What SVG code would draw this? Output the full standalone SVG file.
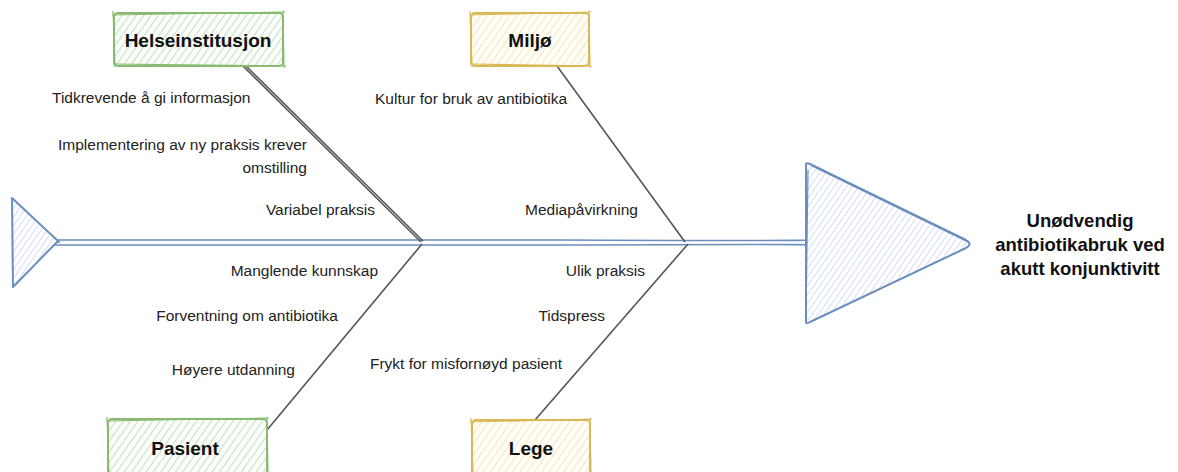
<svg xmlns="http://www.w3.org/2000/svg" width="1178" height="472" viewBox="0 0 1178 472">
<defs>
<pattern id="hGreen" patternUnits="userSpaceOnUse" width="6" height="6" patternTransform="rotate(35)">
<rect width="6" height="6" fill="#fbfdfa"/>
<line x1="0" y1="0" x2="0" y2="6" stroke="#a9cf9d" stroke-width="1.3"/>
</pattern>
<pattern id="hYellow" patternUnits="userSpaceOnUse" width="6" height="6" patternTransform="rotate(35)">
<rect width="6" height="6" fill="#fffdf6"/>
<line x1="0" y1="0" x2="0" y2="6" stroke="#eed9a0" stroke-width="1.3"/>
</pattern>
<pattern id="hBlue" patternUnits="userSpaceOnUse" width="5" height="5" patternTransform="rotate(35)">
<rect width="5" height="5" fill="#ffffff"/>
<line x1="0" y1="0" x2="0" y2="5" stroke="#b6c9e8" stroke-width="1.2"/>
</pattern>
<style>
.lbl{font-family:"Liberation Sans",Arial,sans-serif;font-size:15.5px;fill:#222}
.box{font-family:"Liberation Sans",Arial,sans-serif;font-size:19px;font-weight:bold;fill:#111}
.ttl{font-family:"Liberation Sans",Arial,sans-serif;font-size:18.5px;font-weight:bold;fill:#111}
.gbox{fill:url(#hGreen);stroke:#88bb72;stroke-width:2}
.ybox{fill:url(#hYellow);stroke:#d8b955;stroke-width:2}
.sk{fill:none;stroke-width:1.2}
.fish{fill:url(#hBlue);stroke:#6c8ebf;stroke-width:2;stroke-linejoin:round}
.spine{fill:none;stroke:#6c8ebf;stroke-width:1.6}
.bone{fill:none;stroke:#555;stroke-width:1.6}
</style>
</defs>

<g id="connectors">
<path class="spine" d="M45 240 Q300 239 560 240 T806 240"/>
<path class="spine" d="M45 245 Q300 246 560 245 T806 245"/>
<path class="spine" d="M48 242 L60 242" stroke-width="1"/>
<path class="bone" d="M243 66 L421 242"/>
<path class="bone" d="M246 66 L423 241" stroke-width="1"/>
<path class="bone" d="M557 66 L685 242"/>
<path class="bone" d="M267 430 L422 244"/>
<path class="bone" d="M535 420 L688 244"/>
</g>

<g id="tail">
<path class="fish" d="M12 198 L58 241 L13 287 Z"/>
</g>

<g id="head">
<path class="fish" d="M806 166 Q805 162 810 164 L966 240 Q973 244 966 248 L810 322 Q805 325 806 320 Z"/>
<path class="sk" stroke="#6c8ebf" d="M808 170 L806 318 M812 166 L968 242"/>
<text class="ttl" x="1080" y="227" text-anchor="middle">Unødvendig</text>
<text class="ttl" x="1080" y="251" text-anchor="middle">antibiotikabruk ved</text>
<text class="ttl" x="1080" y="275" text-anchor="middle">akutt konjunktivitt</text>
</g>

<g id="helseinstitusjon">
<rect class="gbox" x="114" y="13" width="169" height="53" rx="4"/>
<path class="sk" stroke="#88bb72" d="M112 15 L285 12 M283 11 L284 68 M286 66 L113 64 M115 67 L113 11"/>
<text class="box" x="198" y="47" text-anchor="middle">Helseinstitusjon</text>
</g>

<g id="miljo">
<rect class="ybox" x="471" y="13" width="118" height="53" rx="4"/>
<path class="sk" stroke="#d8b955" d="M469 15 L591 12 M589 11 L590 68 M592 66 L470 64 M472 67 L470 11"/>
<text class="box" x="530" y="47" text-anchor="middle">Miljø</text>
</g>

<g id="pasient">
<rect class="gbox" x="108" y="419" width="159" height="60" rx="4"/>
<path class="sk" stroke="#88bb72" d="M106 421 L269 418 M267 417 L268 474 M109 474 L107 417"/>
<text class="box" x="185" y="455" text-anchor="middle">Pasient</text>
</g>

<g id="lege">
<rect class="ybox" x="472" y="420" width="118" height="60" rx="4"/>
<path class="sk" stroke="#d8b955" d="M470 422 L592 419 M590 418 L591 474 M473 474 L471 418"/>
<text class="box" x="531" y="455" text-anchor="middle">Lege</text>
</g>

<g id="labels">
<text class="lbl" x="52" y="103">Tidkrevende å gi informasjon</text>
<text class="lbl" x="307" y="150" text-anchor="end">Implementering av ny praksis krever</text>
<text class="lbl" x="307" y="173" text-anchor="end">omstilling</text>
<text class="lbl" x="375" y="215" text-anchor="end">Variabel praksis</text>
<text class="lbl" x="375" y="104">Kultur for bruk av antibiotika</text>
<text class="lbl" x="525" y="215">Mediapåvirkning</text>
<text class="lbl" x="378" y="276" text-anchor="end">Manglende kunnskap</text>
<text class="lbl" x="338" y="321" text-anchor="end">Forventning om antibiotika</text>
<text class="lbl" x="295" y="375" text-anchor="end">Høyere utdanning</text>
<text class="lbl" x="645" y="276" text-anchor="end">Ulik praksis</text>
<text class="lbl" x="605" y="321" text-anchor="end">Tidspress</text>
<text class="lbl" x="562" y="369" text-anchor="end">Frykt for misfornøyd pasient</text>
</g>
</svg>
